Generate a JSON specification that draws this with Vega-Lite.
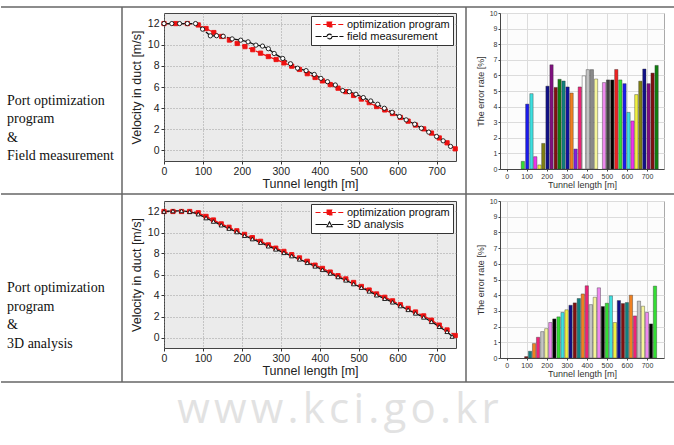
{
"$schema": "https://vega.github.io/schema/vega-lite/v6.json",
"background": "white",
"padding": {"top": 6, "left": 0, "right": 0, "bottom": 14},
"title": {"text": "w\u200Aw\u200Aw\u200A.\u200Ak\u200Ac\u200Ai\u200A.\u200Ag\u200Ao\u200A.\u200Ak\u200Ar", "orient": "bottom", "anchor": "middle", "font": "Open Sans", "fontSize": 42, "fontWeight": "normal", "color": "#e2e2e2", "offset": 7},
"data": {"values": [{}]},
"resolve": {"scale": {"color": "independent", "fill": "independent", "stroke": "independent", "shape": "independent", "strokeDash": "independent"}, "legend": {"color": "independent", "fill": "independent", "stroke": "independent", "shape": "independent", "strokeDash": "independent"}},
"datasets": {
"line1": [
{"s":"optimization program","x":0,"v":12},{"s":"optimization program","x":30,"v":12},{"s":"optimization program","x":60,"v":12},{"s":"optimization program","x":88,"v":11.87},{"s":"optimization program","x":108,"v":11.53},{"s":"optimization program","x":128,"v":11.15},{"s":"optimization program","x":148,"v":10.78},{"s":"optimization program","x":168,"v":10.44},{"s":"optimization program","x":188,"v":10.12},{"s":"optimization program","x":208,"v":9.82},{"s":"optimization program","x":228,"v":9.53},{"s":"optimization program","x":248,"v":9.2},{"s":"optimization program","x":268,"v":8.88},{"s":"optimization program","x":288,"v":8.6},{"s":"optimization program","x":308,"v":8.28},{"s":"optimization program","x":328,"v":7.97},{"s":"optimization program","x":348,"v":7.66},{"s":"optimization program","x":368,"v":7.26},{"s":"optimization program","x":388,"v":6.9},{"s":"optimization program","x":407,"v":6.58},{"s":"optimization program","x":427,"v":6.23},{"s":"optimization program","x":447,"v":5.89},{"s":"optimization program","x":467,"v":5.56},{"s":"optimization program","x":487,"v":5.2},{"s":"optimization program","x":507,"v":4.86},{"s":"optimization program","x":527,"v":4.52},{"s":"optimization program","x":546,"v":4.15},{"s":"optimization program","x":567,"v":3.83},{"s":"optimization program","x":587,"v":3.49},{"s":"optimization program","x":607,"v":3.12},{"s":"optimization program","x":627,"v":2.77},{"s":"optimization program","x":646,"v":2.4},{"s":"optimization program","x":667,"v":2.04},{"s":"optimization program","x":687,"v":1.64},{"s":"optimization program","x":707,"v":1.18},{"s":"optimization program","x":727,"v":0.72},{"s":"optimization program","x":748,"v":0.15},
{"s":"field measurement","x":0,"v":12},{"s":"field measurement","x":20,"v":12},{"s":"field measurement","x":40,"v":12},{"s":"field measurement","x":60,"v":12},{"s":"field measurement","x":81,"v":12},{"s":"field measurement","x":99,"v":11.47},{"s":"field measurement","x":119,"v":10.84},{"s":"field measurement","x":135,"v":10.85},{"s":"field measurement","x":152,"v":10.8},{"s":"field measurement","x":175,"v":10.55},{"s":"field measurement","x":197,"v":10.43},{"s":"field measurement","x":216,"v":10.27},{"s":"field measurement","x":236,"v":9.96},{"s":"field measurement","x":253,"v":9.87},{"s":"field measurement","x":268,"v":9.62},{"s":"field measurement","x":283,"v":9.17},{"s":"field measurement","x":305,"v":8.7},{"s":"field measurement","x":325,"v":8.2},{"s":"field measurement","x":343,"v":7.78},{"s":"field measurement","x":365,"v":7.55},{"s":"field measurement","x":386,"v":7.19},{"s":"field measurement","x":403,"v":6.82},{"s":"field measurement","x":420,"v":6.5},{"s":"field measurement","x":440,"v":6.19},{"s":"field measurement","x":459,"v":5.66},{"s":"field measurement","x":476,"v":5.56},{"s":"field measurement","x":493,"v":5.31},{"s":"field measurement","x":512,"v":5.0},{"s":"field measurement","x":531,"v":4.68},{"s":"field measurement","x":549,"v":4.37},{"s":"field measurement","x":566,"v":3.99},{"s":"field measurement","x":586,"v":3.61},{"s":"field measurement","x":605,"v":3.2},{"s":"field measurement","x":622,"v":2.89},{"s":"field measurement","x":644,"v":2.48},{"s":"field measurement","x":661,"v":2.1},{"s":"field measurement","x":680,"v":1.73},{"s":"field measurement","x":700,"v":1.32},{"s":"field measurement","x":717,"v":0.91},{"s":"field measurement","x":736,"v":0.38}
],
"line2": [
{"s":"optimization program","x":0,"v":12},{"s":"optimization program","x":23,"v":12},{"s":"optimization program","x":45,"v":12},{"s":"optimization program","x":66,"v":12},{"s":"optimization program","x":88,"v":11.88},{"s":"optimization program","x":108,"v":11.53},{"s":"optimization program","x":127,"v":11.19},{"s":"optimization program","x":147,"v":10.82},{"s":"optimization program","x":167,"v":10.5},{"s":"optimization program","x":187,"v":10.16},{"s":"optimization program","x":207,"v":9.82},{"s":"optimization program","x":227,"v":9.51},{"s":"optimization program","x":248,"v":9.16},{"s":"optimization program","x":268,"v":8.82},{"s":"optimization program","x":287,"v":8.51},{"s":"optimization program","x":308,"v":8.2},{"s":"optimization program","x":328,"v":7.89},{"s":"optimization program","x":348,"v":7.58},{"s":"optimization program","x":368,"v":7.26},{"s":"optimization program","x":388,"v":6.89},{"s":"optimization program","x":407,"v":6.58},{"s":"optimization program","x":427,"v":6.23},{"s":"optimization program","x":447,"v":5.89},{"s":"optimization program","x":467,"v":5.58},{"s":"optimization program","x":487,"v":5.24},{"s":"optimization program","x":507,"v":4.86},{"s":"optimization program","x":527,"v":4.52},{"s":"optimization program","x":546,"v":4.15},{"s":"optimization program","x":567,"v":3.83},{"s":"optimization program","x":587,"v":3.49},{"s":"optimization program","x":607,"v":3.12},{"s":"optimization program","x":627,"v":2.77},{"s":"optimization program","x":646,"v":2.43},{"s":"optimization program","x":667,"v":2.06},{"s":"optimization program","x":687,"v":1.65},{"s":"optimization program","x":707,"v":1.18},{"s":"optimization program","x":727,"v":0.72},{"s":"optimization program","x":748,"v":0.19},
{"s":"3D analysis","x":0,"v":12.0},{"s":"3D analysis","x":23,"v":12.05},{"s":"3D analysis","x":45,"v":12.06},{"s":"3D analysis","x":66,"v":11.98},{"s":"3D analysis","x":88,"v":11.75},{"s":"3D analysis","x":108,"v":11.38},{"s":"3D analysis","x":127,"v":11.05},{"s":"3D analysis","x":147,"v":10.7},{"s":"3D analysis","x":167,"v":10.38},{"s":"3D analysis","x":187,"v":10.05},{"s":"3D analysis","x":207,"v":9.7},{"s":"3D analysis","x":227,"v":9.38},{"s":"3D analysis","x":248,"v":9.04},{"s":"3D analysis","x":268,"v":8.7},{"s":"3D analysis","x":287,"v":8.4},{"s":"3D analysis","x":308,"v":8.07},{"s":"3D analysis","x":328,"v":7.76},{"s":"3D analysis","x":348,"v":7.45},{"s":"3D analysis","x":368,"v":7.12},{"s":"3D analysis","x":388,"v":6.78},{"s":"3D analysis","x":407,"v":6.45},{"s":"3D analysis","x":427,"v":6.1},{"s":"3D analysis","x":447,"v":5.77},{"s":"3D analysis","x":467,"v":5.45},{"s":"3D analysis","x":487,"v":5.1},{"s":"3D analysis","x":507,"v":4.75},{"s":"3D analysis","x":527,"v":4.4},{"s":"3D analysis","x":546,"v":4.03},{"s":"3D analysis","x":567,"v":3.7},{"s":"3D analysis","x":587,"v":3.36},{"s":"3D analysis","x":607,"v":3.0},{"s":"3D analysis","x":627,"v":2.64},{"s":"3D analysis","x":646,"v":2.3},{"s":"3D analysis","x":667,"v":1.92},{"s":"3D analysis","x":687,"v":1.5},{"s":"3D analysis","x":707,"v":1.03},{"s":"3D analysis","x":727,"v":0.55},{"s":"3D analysis","x":740,"v":0.1}
],
"bar1": [
{"x":81,"v":0.49,"c":"Green"},{"x":103,"v":4.16,"c":"Blue"},{"x":124,"v":4.83,"c":"Cyan"},{"x":143,"v":0.79,"c":"Magenta"},{"x":164,"v":0.26,"c":"Yellow"},{"x":183,"v":1.64,"c":"DarkYellow"},{"x":204,"v":5.31,"c":"Navy"},{"x":224,"v":6.68,"c":"Purple"},{"x":245,"v":5.23,"c":"Wine"},{"x":264,"v":5.75,"c":"Olive"},{"x":284,"v":5.64,"c":"DarkCyan"},{"x":304,"v":5.26,"c":"Royal"},{"x":324,"v":4.87,"c":"Orange"},{"x":344,"v":1.28,"c":"Violet"},{"x":365,"v":5.26,"c":"Pink"},{"x":385,"v":5.97,"c":"White"},{"x":405,"v":6.37,"c":"LTGray"},{"x":425,"v":6.37,"c":"Gray"},{"x":446,"v":5.77,"c":"LTYellow"},{"x":486,"v":5.54,"c":"LTMagenta"},{"x":506,"v":5.71,"c":"DarkGray"},{"x":527,"v":5.71,"c":"Black"},{"x":547,"v":6.38,"c":"Red"},{"x":567,"v":5.71,"c":"Green"},{"x":588,"v":5.47,"c":"Blue"},{"x":608,"v":3.63,"c":"Cyan"},{"x":628,"v":3.08,"c":"Magenta"},{"x":647,"v":4.77,"c":"Yellow"},{"x":667,"v":5.63,"c":"DarkYellow"},{"x":687,"v":6.41,"c":"Navy"},{"x":708,"v":5.47,"c":"Purple"},{"x":728,"v":6.15,"c":"Wine"},{"x":748,"v":6.64,"c":"Olive"}
],
"bar2": [
{"x":98,"v":0.09,"c":"Wine"},{"x":117,"v":0.43,"c":"DarkCyan"},{"x":137,"v":0.92,"c":"Orange"},{"x":157,"v":1.32,"c":"Pink"},{"x":178,"v":1.68,"c":"LTGray"},{"x":198,"v":1.87,"c":"LTYellow"},{"x":218,"v":2.26,"c":"LTMagenta"},{"x":238,"v":2.49,"c":"Black"},{"x":259,"v":2.62,"c":"Green"},{"x":279,"v":2.9,"c":"Cyan"},{"x":299,"v":3.07,"c":"Yellow"},{"x":319,"v":3.36,"c":"Navy"},{"x":340,"v":3.51,"c":"Wine"},{"x":360,"v":3.79,"c":"DarkCyan"},{"x":380,"v":4.08,"c":"Orange"},{"x":400,"v":4.6,"c":"Pink"},{"x":420,"v":3.4,"c":"LTGray"},{"x":440,"v":3.87,"c":"LTYellow"},{"x":460,"v":4.47,"c":"LTMagenta"},{"x":480,"v":3.28,"c":"Black"},{"x":500,"v":3.49,"c":"Green"},{"x":520,"v":3.96,"c":"Cyan"},{"x":540,"v":2.26,"c":"Yellow"},{"x":560,"v":3.66,"c":"Navy"},{"x":580,"v":3.47,"c":"Wine"},{"x":600,"v":3.53,"c":"DarkCyan"},{"x":620,"v":4.0,"c":"Orange"},{"x":640,"v":2.68,"c":"Pink"},{"x":660,"v":3.62,"c":"LTGray"},{"x":680,"v":3.3,"c":"LTYellow"},{"x":700,"v":2.9,"c":"LTMagenta"},{"x":720,"v":2.17,"c":"Black"},{"x":740,"v":4.58,"c":"Green"}
]
},
"columns": 7,
"spacing": 0,
"bounds": "flush",
"concat": [
{"width":121,"height":6,"mark":{"type":"rule","color":"#666","strokeWidth":1.5},"encoding":{"y":{"datum":1,"scale":{"domain":[0,1]},"axis":null}}},
{"width":42,"height":6,"layer":[{"mark":{"type":"rule","color":"#666","strokeWidth":1.5},"encoding":{"y":{"datum":1,"scale":{"domain":[0,1]},"axis":null}}},{"mark":{"type":"rule","color":"#666","strokeWidth":1.5},"encoding":{"x":{"datum":0,"scale":{"domain":[0,1]},"axis":null}}}]},
{"width":292,"height":6,"mark":{"type":"rule","color":"#666","strokeWidth":1.5},"encoding":{"y":{"datum":1,"scale":{"domain":[0,1]},"axis":null}}},
{"width":10,"height":6,"mark":{"type":"rule","color":"#666","strokeWidth":1.5},"encoding":{"y":{"datum":1,"scale":{"domain":[0,1]},"axis":null}}},
{"width":34,"height":6,"layer":[{"mark":{"type":"rule","color":"#666","strokeWidth":1.5},"encoding":{"y":{"datum":1,"scale":{"domain":[0,1]},"axis":null}}},{"mark":{"type":"rule","color":"#666","strokeWidth":1.5},"encoding":{"x":{"datum":0,"scale":{"domain":[0,1]},"axis":null}}}]},
{"width":164,"height":6,"mark":{"type":"rule","color":"#666","strokeWidth":1.5},"encoding":{"y":{"datum":1,"scale":{"domain":[0,1]},"axis":null}}},
{"width":11,"height":6,"mark":{"type":"rule","color":"#666","strokeWidth":1.5},"encoding":{"y":{"datum":1,"scale":{"domain":[0,1]},"axis":null}}},

{"width":121,"height":156,"data":{"values":[{"t":"Port optimization\nprogram\n&\nField measurement"}]},"mark":{"type":"text","align":"left","baseline":"middle","font":"Liberation Serif","fontSize":14,"lineHeight":18.5,"lineBreak":"\n","color":"#111"},"encoding":{"text":{"field":"t"},"x":{"datum":0.05,"scale":{"domain":[0,1]},"axis":null},"y":{"datum":0.436,"scale":{"domain":[0,1]},"axis":null}}},
{"width":42,"height":156,"mark":{"type":"rule","color":"#666","strokeWidth":1.5},"encoding":{"x":{"datum":0,"scale":{"domain":[0,1]},"axis":null}}},
{"width":292,"height":148,"view":{"fill":"#ebebeb","stroke":"#444"},"data":{"name":"line1"},
 "encoding":{"x":{"field":"x","type":"quantitative","scale":{"domain":[0,750],"nice":false,"zero":false},"axis":{"title":"Tunnel length [m]","values":[0,100,200,300,400,500,600,700],"grid":true,"gridColor":"#888","gridDash":[1,2],"gridWidth":0.8,"domain":false,"tickSize":3,"tickColor":"#333","labelFontSize":10.5,"labelColor":"#222","labelPadding":2,"labelFlush":false,"titleFontSize":12.5,"titleColor":"#222","titlePadding":1}},
  "y":{"field":"v","type":"quantitative","scale":{"domain":[-1,13],"nice":false,"zero":false},"axis":{"title":"Velocity in duct [m/s]","values":[0,2,4,6,8,10,12],"grid":true,"gridColor":"#888","gridDash":[1,2],"gridWidth":0.8,"domain":false,"tickSize":3,"tickColor":"#333","labelFontSize":10.5,"labelColor":"#222","labelPadding":2,"labelFlush":false,"titleFontSize":12.5,"titleColor":"#222","titlePadding":4}}},
 "layer":[
  {"mark":{"type":"line","strokeWidth":1.3},"encoding":{"color":{"field":"s","type":"nominal","scale":{"domain":["optimization program","field measurement"],"range":["#ee1111","#111111"]},"legend":{"title":null,"orient":"top-right","offset":3,"fillColor":"#ffffff","strokeColor":"#333","padding":3,"labelFontSize":11,"labelColor":"#111","rowPadding":0,"symbolSize":64,"symbolStrokeWidth":1.1,"labelOffset":22,"encode":{"symbols":{"update":{"shape":{"signal":"datum.value === 'optimization program' ? 'M-1,0H0.3M0.9,0H1.9M3.1,0H4.1M4.7,0H6M1.9,-0.6H3.1V0.6H1.9Z' : 'M-1,0H1.9M3.1,0H6M3.1,0A0.6,0.6,0,1,1,1.9,0A0.6,0.6,0,1,1,3.1,0Z'"},"fill":{"signal":"datum.value === 'optimization program' ? '#ee1111' : '#ffffff'"},"strokeDash":{"value":[]},"strokeWidth":{"value":1.1}}}}}},"strokeDash":{"field":"s","type":"nominal","scale":{"domain":["optimization program","field measurement"],"range":[[5,2.5],[6,1.5]]},"legend":null}}},
  {"transform":[{"filter":"datum.s === 'optimization program'"}],"mark":{"type":"point","shape":"square","size":18,"filled":true,"fill":"#ee1111","stroke":"#ee1111","strokeWidth":0.9,"opacity":1}},
  {"transform":[{"filter":"datum.s === 'field measurement'"}],"mark":{"type":"point","shape":"circle","size":18,"filled":true,"fill":"#ffffff","stroke":"#111111","strokeWidth":0.9,"opacity":1}}
 ]},
{"width":10,"height":10,"mark":{"type":"point","opacity":0},"encoding":{}},
{"width":34,"height":156,"mark":{"type":"rule","color":"#666","strokeWidth":1.5},"encoding":{"x":{"datum":0,"scale":{"domain":[0,1]},"axis":null}}},
{"width":164,"height":156,"view":{"fill":"#fcfcfc","stroke":"#aaa"},"data":{"name":"bar1"},"mark":{"type":"bar","width":3.3,"stroke":"#333","strokeWidth":0.4},
 "encoding":{"x":{"field":"x","type":"quantitative","scale":{"domain":[-8,760],"nice":false,"zero":false},"axis":{"title":"Tunnel length [m]","values":[0,100,200,300,400,500,600,700],"grid":true,"gridColor":"#dcdcdc","domainColor":"#444","tickSize":2,"tickColor":"#444","labelFontSize":7,"labelColor":"#333","labelPadding":1,"labelFlush":false,"titleFontSize":9,"titleColor":"#333","titlePadding":1}},
  "y":{"field":"v","type":"quantitative","stack":null,"scale":{"domain":[0,10],"nice":false},"axis":{"title":"The error rate [%]","values":[0,1,2,3,4,5,6,7,8,9,10],"grid":true,"gridColor":"#dcdcdc","domainColor":"#444","tickSize":2,"tickColor":"#444","labelFontSize":7,"labelColor":"#333","labelPadding":1,"labelFlush":false,"titleFontSize":9,"titleColor":"#333","titlePadding":4}},
  "color":{"field":"c","type":"nominal","legend":null,"scale":{"domain":["Black","Red","Green","Blue","Cyan","Magenta","Yellow","DarkYellow","Navy","Purple","Wine","Olive","DarkCyan","Royal","Orange","Violet","Pink","White","LTGray","Gray","LTYellow","LTCyan","LTMagenta","DarkGray"],"range":["#000000","#ee2222","#33dd33","#1a1aee","#3ee0e0","#ee33ee","#f0f040","#808010","#101088","#801080","#801010","#108010","#108080","#1010a0","#f08020","#8020e0","#ee2277","#ffffff","#c4c4c4","#8a8a8a","#f5f59a","#9af5f5","#ee88ee","#404040"]}}}},
{"width":11,"height":10,"mark":{"type":"point","opacity":0},"encoding":{}},

{"width":121,"height":32,"mark":{"type":"rule","color":"#666","strokeWidth":1.5},"encoding":{"y":{"datum":0.21875,"scale":{"domain":[0,1]},"axis":null}}},
{"width":42,"height":32,"layer":[{"mark":{"type":"rule","color":"#666","strokeWidth":1.5},"encoding":{"y":{"datum":0.21875,"scale":{"domain":[0,1]},"axis":null}}},{"mark":{"type":"rule","color":"#666","strokeWidth":1.5},"encoding":{"x":{"datum":0,"scale":{"domain":[0,1]},"axis":null}}}]},
{"width":292,"height":32,"mark":{"type":"rule","color":"#666","strokeWidth":1.5},"encoding":{"y":{"datum":0.21875,"scale":{"domain":[0,1]},"axis":null}}},
{"width":10,"height":32,"mark":{"type":"rule","color":"#666","strokeWidth":1.5},"encoding":{"y":{"datum":0.21875,"scale":{"domain":[0,1]},"axis":null}}},
{"width":34,"height":32,"layer":[{"mark":{"type":"rule","color":"#666","strokeWidth":1.5},"encoding":{"y":{"datum":0.21875,"scale":{"domain":[0,1]},"axis":null}}},{"mark":{"type":"rule","color":"#666","strokeWidth":1.5},"encoding":{"x":{"datum":0,"scale":{"domain":[0,1]},"axis":null}}}]},
{"width":164,"height":32,"mark":{"type":"rule","color":"#666","strokeWidth":1.5},"encoding":{"y":{"datum":0.21875,"scale":{"domain":[0,1]},"axis":null}}},
{"width":11,"height":32,"mark":{"type":"rule","color":"#666","strokeWidth":1.5},"encoding":{"y":{"datum":0.21875,"scale":{"domain":[0,1]},"axis":null}}},

{"width":121,"height":157,"data":{"values":[{"t":"Port optimization\nprogram\n&\n3D analysis"}]},"mark":{"type":"text","align":"left","baseline":"middle","font":"Liberation Serif","fontSize":14,"lineHeight":18.5,"lineBreak":"\n","color":"#111"},"encoding":{"text":{"field":"t"},"x":{"datum":0.05,"scale":{"domain":[0,1]},"axis":null},"y":{"datum":0.443,"scale":{"domain":[0,1]},"axis":null}}},
{"width":42,"height":157,"mark":{"type":"rule","color":"#666","strokeWidth":1.5},"encoding":{"x":{"datum":0,"scale":{"domain":[0,1]},"axis":null}}},
{"width":292,"height":147,"view":{"fill":"#ebebeb","stroke":"#444"},"data":{"name":"line2"},
 "encoding":{"x":{"field":"x","type":"quantitative","scale":{"domain":[0,750],"nice":false,"zero":false},"axis":{"title":"Tunnel length [m]","values":[0,100,200,300,400,500,600,700],"grid":true,"gridColor":"#888","gridDash":[1,2],"gridWidth":0.8,"domain":false,"tickSize":3,"tickColor":"#333","labelFontSize":10.5,"labelColor":"#222","labelPadding":2,"labelFlush":false,"titleFontSize":12.5,"titleColor":"#222","titlePadding":1}},
  "y":{"field":"v","type":"quantitative","scale":{"domain":[-1,13],"nice":false,"zero":false},"axis":{"title":"Velocity in duct [m/s]","values":[0,2,4,6,8,10,12],"grid":true,"gridColor":"#888","gridDash":[1,2],"gridWidth":0.8,"domain":false,"tickSize":3,"tickColor":"#333","labelFontSize":10.5,"labelColor":"#222","labelPadding":2,"labelFlush":false,"titleFontSize":12.5,"titleColor":"#222","titlePadding":4}}},
 "layer":[
  {"mark":{"type":"line","strokeWidth":1.3},"encoding":{"color":{"field":"s","type":"nominal","scale":{"domain":["optimization program","3D analysis"],"range":["#ee1111","#111111"]},"legend":{"title":null,"orient":"top-right","offset":3,"fillColor":"#ffffff","strokeColor":"#333","padding":3,"labelFontSize":11,"labelColor":"#111","rowPadding":0,"symbolSize":64,"symbolStrokeWidth":1.1,"labelOffset":22,"encode":{"symbols":{"update":{"shape":{"signal":"datum.value === 'optimization program' ? 'M-1,0H0.3M0.9,0H1.9M3.1,0H4.1M4.7,0H6M1.9,-0.6H3.1V0.6H1.9Z' : 'M-1,0H1.85M3.15,0H6M2.5,-0.65L3.15,0.55H1.85Z'"},"fill":{"signal":"datum.value === 'optimization program' ? '#ee1111' : '#ffffff'"},"strokeDash":{"value":[]},"strokeWidth":{"value":1.1}}}}}},"strokeDash":{"field":"s","type":"nominal","scale":{"domain":["optimization program","3D analysis"],"range":[[5,2.5],[1,0]]},"legend":null}}},
  {"transform":[{"filter":"datum.s === 'optimization program'"}],"mark":{"type":"point","shape":"square","size":18,"filled":true,"fill":"#ee1111","stroke":"#ee1111","strokeWidth":0.9,"opacity":1}},
  {"transform":[{"filter":"datum.s === '3D analysis'"}],"mark":{"type":"point","shape":"triangle-up","size":18,"filled":true,"fill":"#ffffff","stroke":"#111111","strokeWidth":0.9,"opacity":1}}
 ]},
{"width":10,"height":10,"mark":{"type":"point","opacity":0},"encoding":{}},
{"width":34,"height":157,"mark":{"type":"rule","color":"#666","strokeWidth":1.5},"encoding":{"x":{"datum":0,"scale":{"domain":[0,1]},"axis":null}}},
{"width":164,"height":157,"view":{"fill":"#fcfcfc","stroke":"#aaa"},"data":{"name":"bar2"},"mark":{"type":"bar","width":3.3,"stroke":"#333","strokeWidth":0.4},
 "encoding":{"x":{"field":"x","type":"quantitative","scale":{"domain":[-8,760],"nice":false,"zero":false},"axis":{"title":"Tunnel length [m]","values":[0,100,200,300,400,500,600,700],"grid":true,"gridColor":"#dcdcdc","domainColor":"#444","tickSize":2,"tickColor":"#444","labelFontSize":7,"labelColor":"#333","labelPadding":1,"labelFlush":false,"titleFontSize":9,"titleColor":"#333","titlePadding":1}},
  "y":{"field":"v","type":"quantitative","stack":null,"scale":{"domain":[0,10],"nice":false},"axis":{"title":"The error rate [%]","values":[0,1,2,3,4,5,6,7,8,9,10],"grid":true,"gridColor":"#dcdcdc","domainColor":"#444","tickSize":2,"tickColor":"#444","labelFontSize":7,"labelColor":"#333","labelPadding":1,"labelFlush":false,"titleFontSize":9,"titleColor":"#333","titlePadding":4}},
  "color":{"field":"c","type":"nominal","legend":null,"scale":{"domain":["Black","Red","Green","Blue","Cyan","Magenta","Yellow","DarkYellow","Navy","Purple","Wine","Olive","DarkCyan","Royal","Orange","Violet","Pink","White","LTGray","Gray","LTYellow","LTCyan","LTMagenta","DarkGray"],"range":["#000000","#ee2222","#33dd33","#1a1aee","#3ee0e0","#ee33ee","#f0f040","#808010","#101088","#801080","#801010","#108010","#108080","#1010a0","#f08020","#8020e0","#ee2277","#ffffff","#c4c4c4","#8a8a8a","#f5f59a","#9af5f5","#ee88ee","#404040"]}}}},
{"width":11,"height":10,"mark":{"type":"point","opacity":0},"encoding":{}},

{"width":121,"height":24,"mark":{"type":"rule","color":"#666","strokeWidth":1.5},"encoding":{"y":{"datum":0,"scale":{"domain":[0,1]},"axis":null}}},
{"width":42,"height":24,"layer":[{"mark":{"type":"rule","color":"#666","strokeWidth":1.5},"encoding":{"y":{"datum":0,"scale":{"domain":[0,1]},"axis":null}}},{"mark":{"type":"rule","color":"#666","strokeWidth":1.5},"encoding":{"x":{"datum":0,"scale":{"domain":[0,1]},"axis":null}}}]},
{"width":292,"height":24,"mark":{"type":"rule","color":"#666","strokeWidth":1.5},"encoding":{"y":{"datum":0,"scale":{"domain":[0,1]},"axis":null}}},
{"width":10,"height":24,"mark":{"type":"rule","color":"#666","strokeWidth":1.5},"encoding":{"y":{"datum":0,"scale":{"domain":[0,1]},"axis":null}}},
{"width":34,"height":24,"layer":[{"mark":{"type":"rule","color":"#666","strokeWidth":1.5},"encoding":{"y":{"datum":0,"scale":{"domain":[0,1]},"axis":null}}},{"mark":{"type":"rule","color":"#666","strokeWidth":1.5},"encoding":{"x":{"datum":0,"scale":{"domain":[0,1]},"axis":null}}}]},
{"width":164,"height":24,"mark":{"type":"rule","color":"#666","strokeWidth":1.5},"encoding":{"y":{"datum":0,"scale":{"domain":[0,1]},"axis":null}}},
{"width":11,"height":24,"mark":{"type":"rule","color":"#666","strokeWidth":1.5},"encoding":{"y":{"datum":0,"scale":{"domain":[0,1]},"axis":null}}}
],
"config": {
 "view": {"stroke": null},
 "axis": {"labelFont": "Liberation Sans", "titleFont": "Liberation Sans", "titleFontWeight": "normal"},
 "legend": {"labelFont": "Liberation Sans"}
}
}
